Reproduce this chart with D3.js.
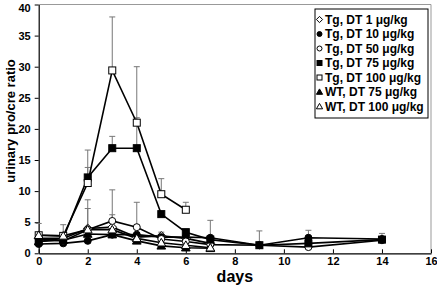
<!DOCTYPE html>
<html>
<head>
<meta charset="utf-8">
<script src="https://cdn.jsdelivr.net/npm/d3@7"></script>
<style>
  body { margin: 0; background: #fff; }
  svg text { font-family: Arial, "Liberation Sans", sans-serif; font-weight: bold; }
</style>
</head>
<body>
<svg id="chart"></svg>
<script>
// Data
const seriesNames = ["Tg, DT 1 \u03bcg/kg", "Tg, DT 10 \u03bcg/kg", "Tg, DT 50 \u03bcg/kg",
  "Tg, DT 75 \u03bcg/kg", "Tg, DT 100 \u03bcg/kg", "WT, DT 75 \u03bcg/kg", "WT, DT 100 \u03bcg/kg"];
const markerTypes = ["diamondOpen", "circleFill", "circleOpen", "squareFill", "squareOpen", "triFill", "triOpen"];

const daysShort = [0, 1, 2, 3, 4, 5, 6, 7];
const daysLong = [0, 1, 2, 3, 4, 5, 6, 7, 9, 11, 14];
const daysTg100 = [0, 1, 2, 3, 4, 5, 6];

const tg1 = [2.4, 2.4, 4.0, 4.2, 2.6, 2.8, 2.4, 1.6];
const tg10 = [1.5, 1.6, 2.0, 3.0, 3.0, 2.6, 2.6, 2.5, 1.3, 2.5, 2.3];
const tg50 = [2.3, 2.0, 3.8, 5.2, 4.2, 2.3, 1.9, 1.4, 1.3, 1.0, 2.1];
const tg75 = [1.9, 2.4, 12.2, 16.9, 16.9, 6.3, 3.4, 2.2, 1.3, 1.6, 2.2];
const tg100 = [2.9, 2.8, 11.3, 29.4, 21.0, 9.5, 7.0];
const wt75 = [1.9, 2.1, 3.1, 3.0, 2.0, 1.2, 0.9, 0.8];
const wt100 = [2.9, 2.8, 3.8, 3.8, 2.4, 1.7, 1.3, 0.9];

// upper ends of error bars (null = none drawn)
const tg1Err = [null, null, null, 6.2, null, 3.4, null, null];
const tg10Err = [null, null, null, null, null, null, null, 5.3, 3.6, 3.7, 3.2];
const tg50Err = [null, null, 8.6, 10.2, 8.2, null, null, null, null, null, null];
const tg75Err = [null, null, 16.6, 18.8, 21.8, null, null, null, null, null, null];
const tg100Err = [4.8, 4.6, 13.8, 38.0, 30.0, 12.0, 8.2];
const wt75Err = [null, null, 7.2, null, null, null, null, null];
const wt100Err = [null, null, null, null, null, null, null, null];

const xTicks = [0, 2, 4, 6, 8, 10, 12, 14, 16];
const yTicks = [0, 5, 10, 15, 20, 25, 30, 35, 40];

const allSeries = [
  { days: daysShort, vals: tg1, err: tg1Err },
  { days: daysLong, vals: tg10, err: tg10Err },
  { days: daysLong, vals: tg50, err: tg50Err },
  { days: daysLong, vals: tg75, err: tg75Err },
  { days: daysTg100, vals: tg100, err: tg100Err },
  { days: daysShort, vals: wt75, err: wt75Err },
  { days: daysShort, vals: wt100, err: wt100Err }
];

const w = 437, h = 288;
const padL = 38.7, padR = 431, padT = 4.5, padB = 253.3;

const svg = d3.select("#chart").attr("width", w).attr("height", h);

const xScale = d3.scaleLinear().domain([0, 16]).range([padL, padR]);
const yScale = d3.scaleLinear().domain([0, 40]).range([padB, padT]);

// frame (top/right gray)
svg.append("path")
   .attr("d", `M${padL},${padT}H${padR}V${padB}`)
   .attr("fill", "none").attr("stroke", "#999").attr("stroke-width", 1);

// Axes
const xAxis = d3.axisBottom(xScale).tickValues(xTicks).tickSizeInner(-4).tickSizeOuter(0).tickPadding(4);
svg.append("g").attr("transform", `translate(0,${padB})`).call(xAxis)
   .call(g => g.select(".domain").attr("stroke-width", 1.2))
   .call(g => g.selectAll("text").attr("font-size", 11).attr("font-family", null));

const yAxis = d3.axisLeft(yScale).tickValues(yTicks).tickSizeInner(4).tickSizeOuter(0).tickPadding(4);
svg.append("g").attr("transform", `translate(${padL},0)`).call(yAxis)
   .call(g => g.select(".domain").attr("stroke-width", 1.2))
   .call(g => g.selectAll("text").attr("font-size", 11).attr("font-family", null)
     .attr("dy", d => d === 40 ? "0.6em" : "0.32em"));

// Labels
svg.append("text").attr("x", (padL + padR) / 2).attr("y", 282)
   .attr("text-anchor", "middle").attr("font-size", 16).text("days");
svg.append("text").attr("transform", "translate(15,121) rotate(-90)")
   .attr("text-anchor", "middle").attr("font-size", 13).text("urinary pro/cre ratio");

// Marker drawing
function drawMarker(g, type, cx, cy, s) {
  const fill = type.endsWith("Fill") ? "#000" : "#fff";
  let el;
  if (type.startsWith("circle")) {
    el = g.append("circle").attr("cx", cx).attr("cy", cy).attr("r", s / 2);
  } else if (type.startsWith("square")) {
    el = g.append("rect").attr("x", cx - s / 2).attr("y", cy - s / 2).attr("width", s).attr("height", s);
  } else if (type.startsWith("diamond")) {
    const r = s * 0.62;
    el = g.append("path").attr("d", `M${cx},${cy - r}L${cx + r},${cy}L${cx},${cy + r}L${cx - r},${cy}Z`);
  } else {
    const r = s * 0.62;
    el = g.append("path").attr("d", `M${cx},${cy - r}L${cx + r},${cy + r * 0.75}L${cx - r},${cy + r * 0.75}Z`);
  }
  el.attr("fill", fill).attr("stroke", "#000").attr("stroke-width", 1);
}

// Error bars
const errG = svg.append("g");
allSeries.forEach(s => {
  s.days.forEach((d, i) => {
    const e = s.err[i];
    if (e == null) return;
    const x = xScale(d);
    errG.append("line").attr("x1", x).attr("x2", x).attr("y1", yScale(s.vals[i])).attr("y2", yScale(e))
        .attr("stroke", "#777").attr("stroke-width", 1);
    errG.append("line").attr("x1", x - 3).attr("x2", x + 3).attr("y1", yScale(e)).attr("y2", yScale(e))
        .attr("stroke", "#777").attr("stroke-width", 1);
  });
});

// Lines
const line = d3.line().x(p => xScale(p[0])).y(p => yScale(p[1]));
allSeries.forEach(s => {
  svg.append("path").datum(s.days.map((d, i) => [d, s.vals[i]]))
     .attr("d", line).attr("fill", "none").attr("stroke", "#000").attr("stroke-width", 1.6);
});

// Markers
allSeries.forEach((s, k) => {
  const g = svg.append("g");
  s.days.forEach((d, i) => drawMarker(g, markerTypes[k], xScale(d), yScale(s.vals[i]), 7));
});

// Legend
const lg = svg.append("g");
lg.append("rect").attr("x", 315).attr("y", 9).attr("width", 113).attr("height", 109)
  .attr("fill", "#fff").attr("stroke", "#000").attr("stroke-width", 1);
seriesNames.forEach((name, k) => {
  const yy = 19.5 + k * 14.5;
  drawMarker(lg, markerTypes[k], 319.5, yy, 5);
  lg.append("text").attr("x", 325).attr("y", yy + 4).attr("font-size", 12).text(name);
});
</script>
</body>
</html>
